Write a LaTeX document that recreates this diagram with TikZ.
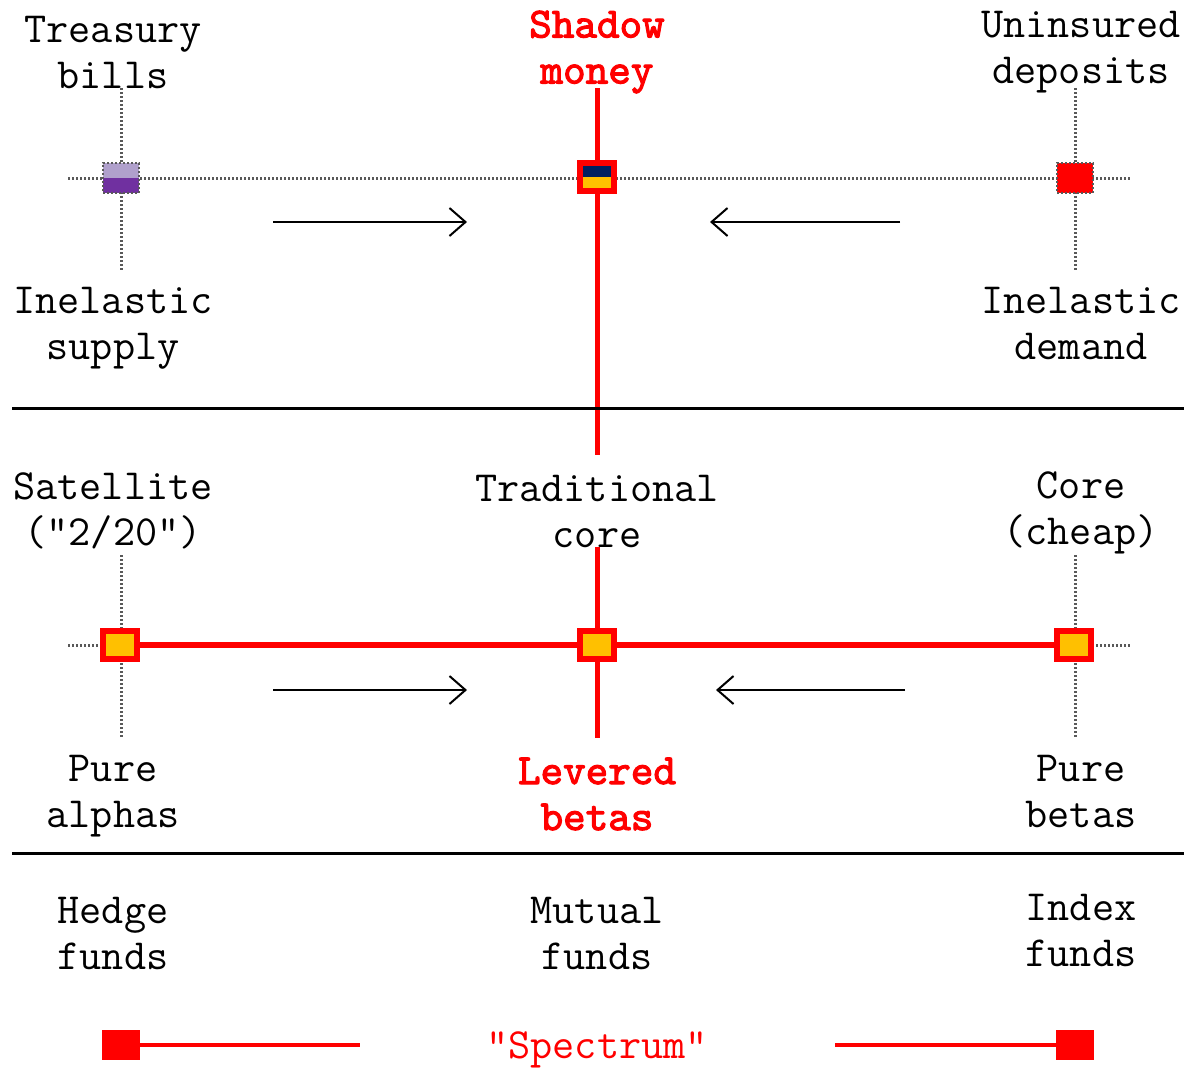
\documentclass[tikz,border=0pt]{standalone}
\usepackage{fontspec}
\newfontfamily\heavymono{lmmono10-regular.otf}[FakeBold=2.5]
\usetikzlibrary{arrows.meta}
\definecolor{lilac}{HTML}{B0A0CC}
\definecolor{plum}{HTML}{7030A0}
\definecolor{navy}{HTML}{002060}
\definecolor{gold}{HTML}{FFC000}

\begin{document}
\begin{tikzpicture}[x = 0.5pt, y = -0.5pt,
    every node/.style = {font = \ttfamily\fontsize{21.5}{23}\selectfont, align = center, inner sep = 0pt},
    title/.style = {text = red, font = \heavymono\fontsize{21.5}{23}\selectfont},
    grid/.style = {draw = black!65, line width = 1.5pt, dash pattern = on 1pt off 1pt},
    redline/.style = {draw = red, line width = 2.5pt},
    rule/.style = {draw = black, line width = 1.5pt},
    push/.style = {draw = black, line width = 1pt, -{Straight Barb[length = 8pt, width = 14pt]}},
    box/.style = {draw = red, line width = 3pt, fill = gold, minimum width = 17pt, minimum height = 14pt},
    spot/.style = {grid, line width = 1pt, minimum width = 18pt, minimum height = 15pt}]
    \useasboundingbox (0,0) rectangle (1192,1067);

    % upper market: shadow money
    \coordinate (ul) at (68,178);  \coordinate (ur) at (1130,178);
    \coordinate (ut) at (597,88);  \coordinate (ub) at (597,455);
    \draw[grid] (ul) -- (ur);
    \draw[grid] (121,88) -- (121,270);
    \draw[grid] (1075,88) -- (1075,270);
    \draw[redline] (ut) -- (ub);
    \node[spot, fill = plum, path picture = {\fill[lilac] (path picture bounding box.north west) rectangle (path picture bounding box.east);}] (bills) at (121,178) {};
    \node[box, path picture = {\fill[navy] (path picture bounding box.north west) rectangle (path picture bounding box.east);}] (shadow) at (597,177) {};
    \node[spot, fill = red] (deposits) at (1075,178) {};
    \coordinate (a1) at (273,222);  \coordinate (a2) at (467,222);
    \coordinate (a3) at (900,222);  \coordinate (a4) at (710,222);
    \draw[push] (a1) -- (a2);
    \draw[push] (a3) -- (a4);

    \node (tb) at (113,52) {Treasury\\bills};
    \node[title] (sm) at (597,52) {Shadow\\money};
    \node (ud) at (1081,52) {Uninsured\\deposits};
    \node (is) at (113,328) {Inelastic\\supply};
    \node (id) at (1081,323) {Inelastic\\demand};

    \coordinate (r1l) at (12,408);  \coordinate (r1r) at (1184,408);
    \draw[rule] (r1l) -- (r1r);

    % lower market: levered betas
    \coordinate (ll) at (68,645);  \coordinate (lr) at (1130,645);
    \coordinate (lt) at (597,547); \coordinate (lb) at (597,738);
    \draw[grid] (ll) -- (lr);
    \draw[grid] (121,555) -- (121,738);
    \draw[grid] (1075,555) -- (1075,738);
    \draw[redline] (lt) -- (lb);
    \node[box] (alpha) at (120,645) {};
    \node[box] (core) at (597,645) {};
    \node[box] (beta) at (1074,645) {};
    \draw[redline, line width = 3pt] (alpha) -- (core) -- (beta);
    \coordinate (b1) at (273,690);  \coordinate (b2) at (467,690);
    \coordinate (b3) at (905,690);  \coordinate (b4) at (716,690);
    \draw[push] (b1) -- (b2);
    \draw[push] (b3) -- (b4);

    \node (sat) at (113,511) {Satellite\\("2/20")};
    \node (tc) at (597,511) {Traditional\\core};
    \node (cc) at (1081,513) {Core\\(cheap)};
    \node (pa) at (113,796) {Pure\\alphas};
    \node[title] (lv) at (597,794) {Levered\\betas};
    \node (pb) at (1081,791) {Pure\\betas};

    \coordinate (r2l) at (12,853);  \coordinate (r2r) at (1184,853);
    \draw[rule] (r2l) -- (r2r);

    % funds
    \node (hf) at (113,933) {Hedge\\funds};
    \node (mf) at (597,933) {Mutual\\funds};
    \node (if) at (1081,930) {Index\\funds};

    % spectrum
    \node[fill = red, minimum width = 19pt, minimum height = 15pt] (sl) at (121,1045) {};
    \node[fill = red, minimum width = 19pt, minimum height = 15pt] (sr) at (1075,1045) {};
    \node[text = red] (sp) at (597,1050) {"Spectrum"};
    \coordinate (s1) at (360,1045);  \coordinate (s2) at (835,1045);
    \draw[red, line width = 2pt] (sl) -- (s1);
    \draw[red, line width = 2pt] (s2) -- (sr);
\end{tikzpicture}
\end{document}
